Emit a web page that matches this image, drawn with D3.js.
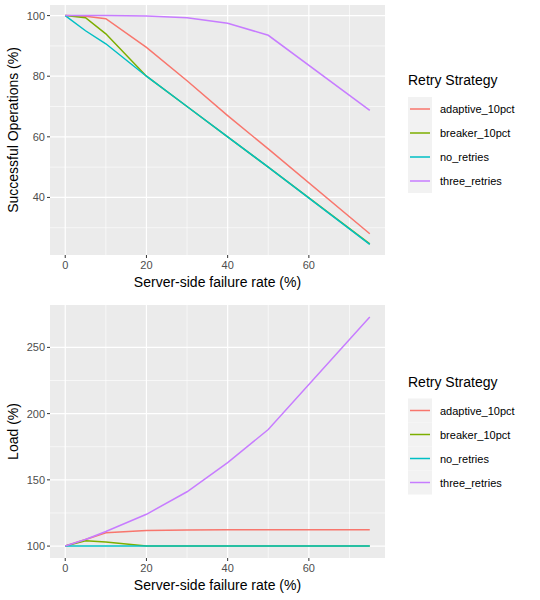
<!DOCTYPE html>
<html><head><meta charset="utf-8">
<script src="https://cdn.jsdelivr.net/npm/d3@7"></script>
<style>body{margin:0;background:#fff;font-family:"Liberation Sans",Arial,sans-serif}</style>
</head><body>
<script>
const failureRates = [0, 5, 10, 20, 30, 40, 50, 75];
const strategies = ["adaptive_10pct", "breaker_10pct", "no_retries", "three_retries"];
const colors = ["#F8766D", "#7CAE00", "#00BFC4", "#C77CFF"];
const successValues = {
  adaptive_10pct: [100, 99.8, 99, 89.5, 78.5, 67, 56, 28],
  breaker_10pct: [100, 99.3, 94, 80, 70, 60, 50, 24.7],
  no_retries: [100, 95, 90.7, 80, 70, 60, 50, 24.5],
  three_retries: [100, 100, 100, 99.9, 99.3, 97.5, 93.5, 68.7]
};
const loadValues = {
  adaptive_10pct: [100, 105, 110, 111.8, 112.2, 112.3, 112.3, 112.3],
  breaker_10pct: [100, 104, 103, 100, 100, 100, 100, 100],
  no_retries: [100, 100, 100, 100, 100, 100, 100, 100],
  three_retries: [100, 105, 111, 124, 141, 163, 188, 273]
};
const xTicks = [0, 20, 40, 60];

const svg = d3.select("body").append("svg").attr("width", 540).attr("height", 600);

function panel(top, bottom, values, yDomain, yTicks, yTitle) {
  const left = 50, right = 385;
  const x = d3.scaleLinear().domain([-3.75, 78.75]).range([left, right]);
  const y = d3.scaleLinear().domain(yDomain).range([bottom, top]);
  const g = svg.append("g");
  g.append("rect").attr("x", left).attr("y", top).attr("width", right - left).attr("height", bottom - top).attr("fill", "#EBEBEB");
  const minorX = [10, 30, 50, 70];
  minorX.forEach(v => g.append("line").attr("x1", x(v)).attr("x2", x(v)).attr("y1", top).attr("y2", bottom).attr("stroke", "#fff").attr("stroke-width", 0.6));
  for (let i = 0; i < yTicks.length - 1; i++) {
    const m = (yTicks[i] + yTicks[i + 1]) / 2;
    g.append("line").attr("x1", left).attr("x2", right).attr("y1", y(m)).attr("y2", y(m)).attr("stroke", "#fff").attr("stroke-width", 0.6);
  }
  const lo = yTicks[0] - (yTicks[1] - yTicks[0]) / 2;
  if (y(lo) < bottom) g.append("line").attr("x1", left).attr("x2", right).attr("y1", y(lo)).attr("y2", y(lo)).attr("stroke", "#fff").attr("stroke-width", 0.6);
  xTicks.forEach(v => {
    g.append("line").attr("x1", x(v)).attr("x2", x(v)).attr("y1", top).attr("y2", bottom).attr("stroke", "#fff").attr("stroke-width", 1.2);
    g.append("line").attr("x1", x(v)).attr("x2", x(v)).attr("y1", bottom).attr("y2", bottom + 3).attr("stroke", "#333");
    g.append("text").attr("x", x(v)).attr("y", bottom + 14).attr("text-anchor", "middle").attr("font-size", 11).attr("fill", "#4D4D4D").text(v);
  });
  yTicks.forEach(v => {
    g.append("line").attr("x1", left).attr("x2", right).attr("y1", y(v)).attr("y2", y(v)).attr("stroke", "#fff").attr("stroke-width", 1.2);
    g.append("line").attr("x1", left - 3).attr("x2", left).attr("y1", y(v)).attr("y2", y(v)).attr("stroke", "#333");
    g.append("text").attr("x", left - 5).attr("y", y(v) + 4).attr("text-anchor", "end").attr("font-size", 11).attr("fill", "#4D4D4D").text(v);
  });
  const line = d3.line().x((d, i) => x(failureRates[i])).y(d => y(d));
  strategies.forEach((s, i) => {
    g.append("path").datum(values[s]).attr("d", line).attr("fill", "none").attr("stroke", colors[i]).attr("stroke-width", 1.5);
  });
  g.append("text").attr("x", (left + right) / 2).attr("y", bottom + 32).attr("text-anchor", "middle").attr("font-size", 14).text("Server-side failure rate (%)");
  g.append("text").attr("transform", `translate(18,${(top + bottom) / 2}) rotate(-90)`).attr("text-anchor", "middle").attr("font-size", 14).text(yTitle);
  // legend
  const ly = (top + bottom) / 2 - 45;
  g.append("text").attr("x", 408).attr("y", ly).attr("font-size", 14).text("Retry Strategy");
  strategies.forEach((s, i) => {
    const yy = ly + 12 + i * 24;
    g.append("rect").attr("x", 408).attr("y", yy).attr("width", 24).attr("height", 24).attr("fill", "#F2F2F2");
    g.append("line").attr("x1", 410).attr("x2", 430).attr("y1", yy + 12).attr("y2", yy + 12).attr("stroke", colors[i]).attr("stroke-width", 1.5);
    g.append("text").attr("x", 440).attr("y", yy + 16).attr("font-size", 11).text(s);
  });
}

panel(5, 255, successValues, [21, 103.5], [40, 60, 80, 100], "Successful Operations (%)");
panel(305, 558, loadValues, [91, 282], [100, 150, 200, 250], "Load (%)");
</script>
</body></html>
